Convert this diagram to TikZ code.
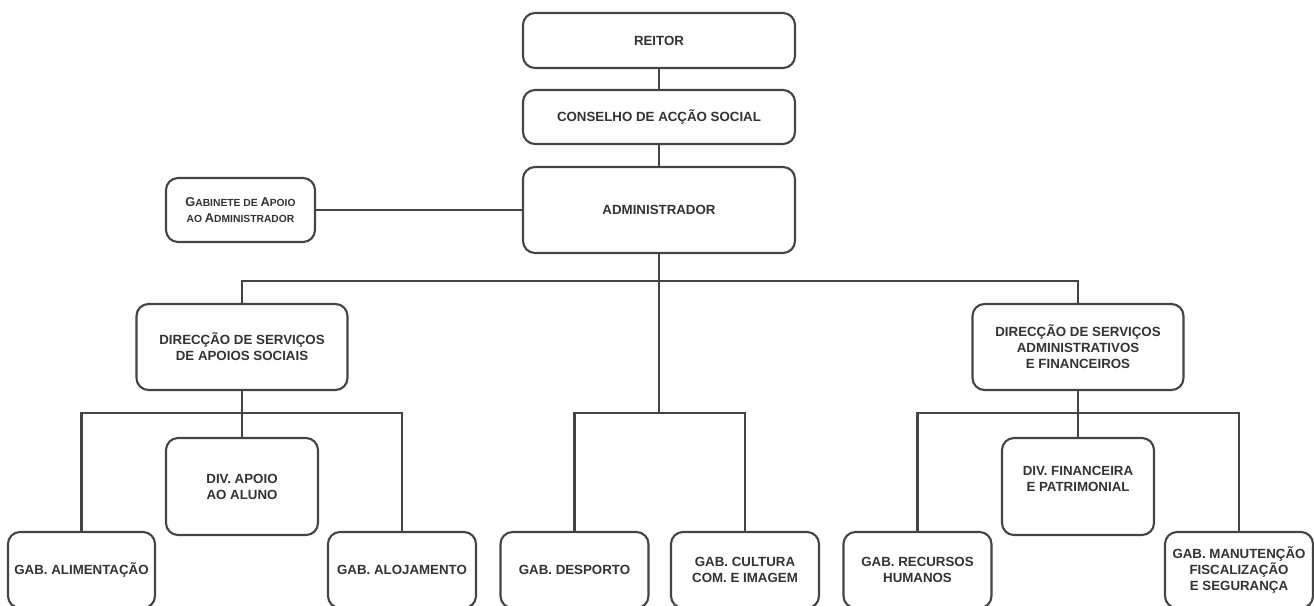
\documentclass[tikz,border=0pt]{standalone}
\usepackage{fontspec}
\setmainfont{Liberation Sans}
\definecolor{txt}{HTML}{333333}
\definecolor{ln}{HTML}{444444}
\newcommand{\scbig}[1]{{\fontsize{12.8}{16}\selectfont #1}}
\newcommand{\scsmall}[1]{{\fontsize{10.3}{16}\selectfont #1}}
\begin{document}
\begin{tikzpicture}[x=1pt,y=-1pt,
  orgbox/.style={draw=ln, line width=2.1pt, rounded corners=12pt, fill=white,
    text=txt, align=center, inner sep=2pt,
    font=\fontsize{13.3}{16}\selectfont\bfseries},
  conn/.style={draw=ln, line width=2.1pt}]
\clip (0,0) rectangle (1314,605);
\fill[white] (0,0) rectangle (1314,605);
% nodes
\node[orgbox, minimum width=272pt, minimum height=55pt] (reitor) at (659,40.5) {REITOR};
\node[orgbox, minimum width=272pt, minimum height=54pt] (conselho) at (659,117) {CONSELHO DE ACÇÃO SOCIAL};
\node[orgbox, minimum width=272pt, minimum height=86pt] (admin) at (659,210) {ADMINISTRADOR};
\node[orgbox, minimum width=149pt, minimum height=64pt] (gab) at (240.5,210)
  {\scbig{G}\scsmall{ABINETE DE }\scbig{A}\scsmall{POIO}\\\scsmall{AO }\scbig{A}\scsmall{DMINISTRADOR}};
\node[orgbox, minimum width=211pt, minimum height=86pt] (dsas) at (242,347) {DIRECÇÃO DE SERVIÇOS\\DE APOIOS SOCIAIS};
\node[orgbox, minimum width=211pt, minimum height=86pt] (dsaf) at (1078,347) {DIRECÇÃO DE SERVIÇOS\\ADMINISTRATIVOS\\E FINANCEIROS};
\node[orgbox, minimum width=152pt, minimum height=97pt] (divapoio) at (242,486.5) {DIV. APOIO\\AO ALUNO};
\node[orgbox, minimum width=152pt, minimum height=97pt] (divfin) at (1078,486.5) {DIV. FINANCEIRA\\E PATRIMONIAL\\[0pt]};
\node[orgbox, minimum width=147pt, minimum height=76pt] (alim) at (81.5,570) {GAB. ALIMENTAÇÃO};
\node[orgbox, minimum width=148pt, minimum height=76pt] (aloj) at (402,570) {GAB. ALOJAMENTO};
\node[orgbox, minimum width=148pt, minimum height=76pt] (desp) at (574.5,570) {GAB. DESPORTO};
\node[orgbox, minimum width=148pt, minimum height=76pt] (cult) at (745,570) {GAB. CULTURA\\COM. E IMAGEM};
\node[orgbox, minimum width=148pt, minimum height=76pt] (rh) at (917.5,570) {GAB. RECURSOS\\HUMANOS};
\node[orgbox, minimum width=148pt, minimum height=76pt] (manut) at (1239,570) {GAB. MANUTENÇÃO\\FISCALIZAÇÃO\\E SEGURANÇA};
% junctions
\coordinate (jt) at (659,281);
\coordinate (jl) at (242,413);
\coordinate (jm) at (659,413);
\coordinate (jr) at (1078,413);
% connectors
\draw[conn] (reitor.south) -- (conselho.north);
\draw[conn] (conselho.south) -- (admin.north);
\draw[conn] (gab.east) -- (admin.west);
\draw[conn] (admin.south) -- (jm);
\draw[conn] (dsas.north) |- (jt) -| (dsaf.north);
\draw[conn] (dsas.south) -- (divapoio.north);
\draw[conn] (alim.north) |- (jl) -| (aloj.north);
\draw[conn] (desp.north) |- (jm) -| (cult.north);
\draw[conn] (dsaf.south) -- (divfin.north);
\draw[conn] (rh.north) |- (jr) -| (manut.north);
\end{tikzpicture}
\end{document}
